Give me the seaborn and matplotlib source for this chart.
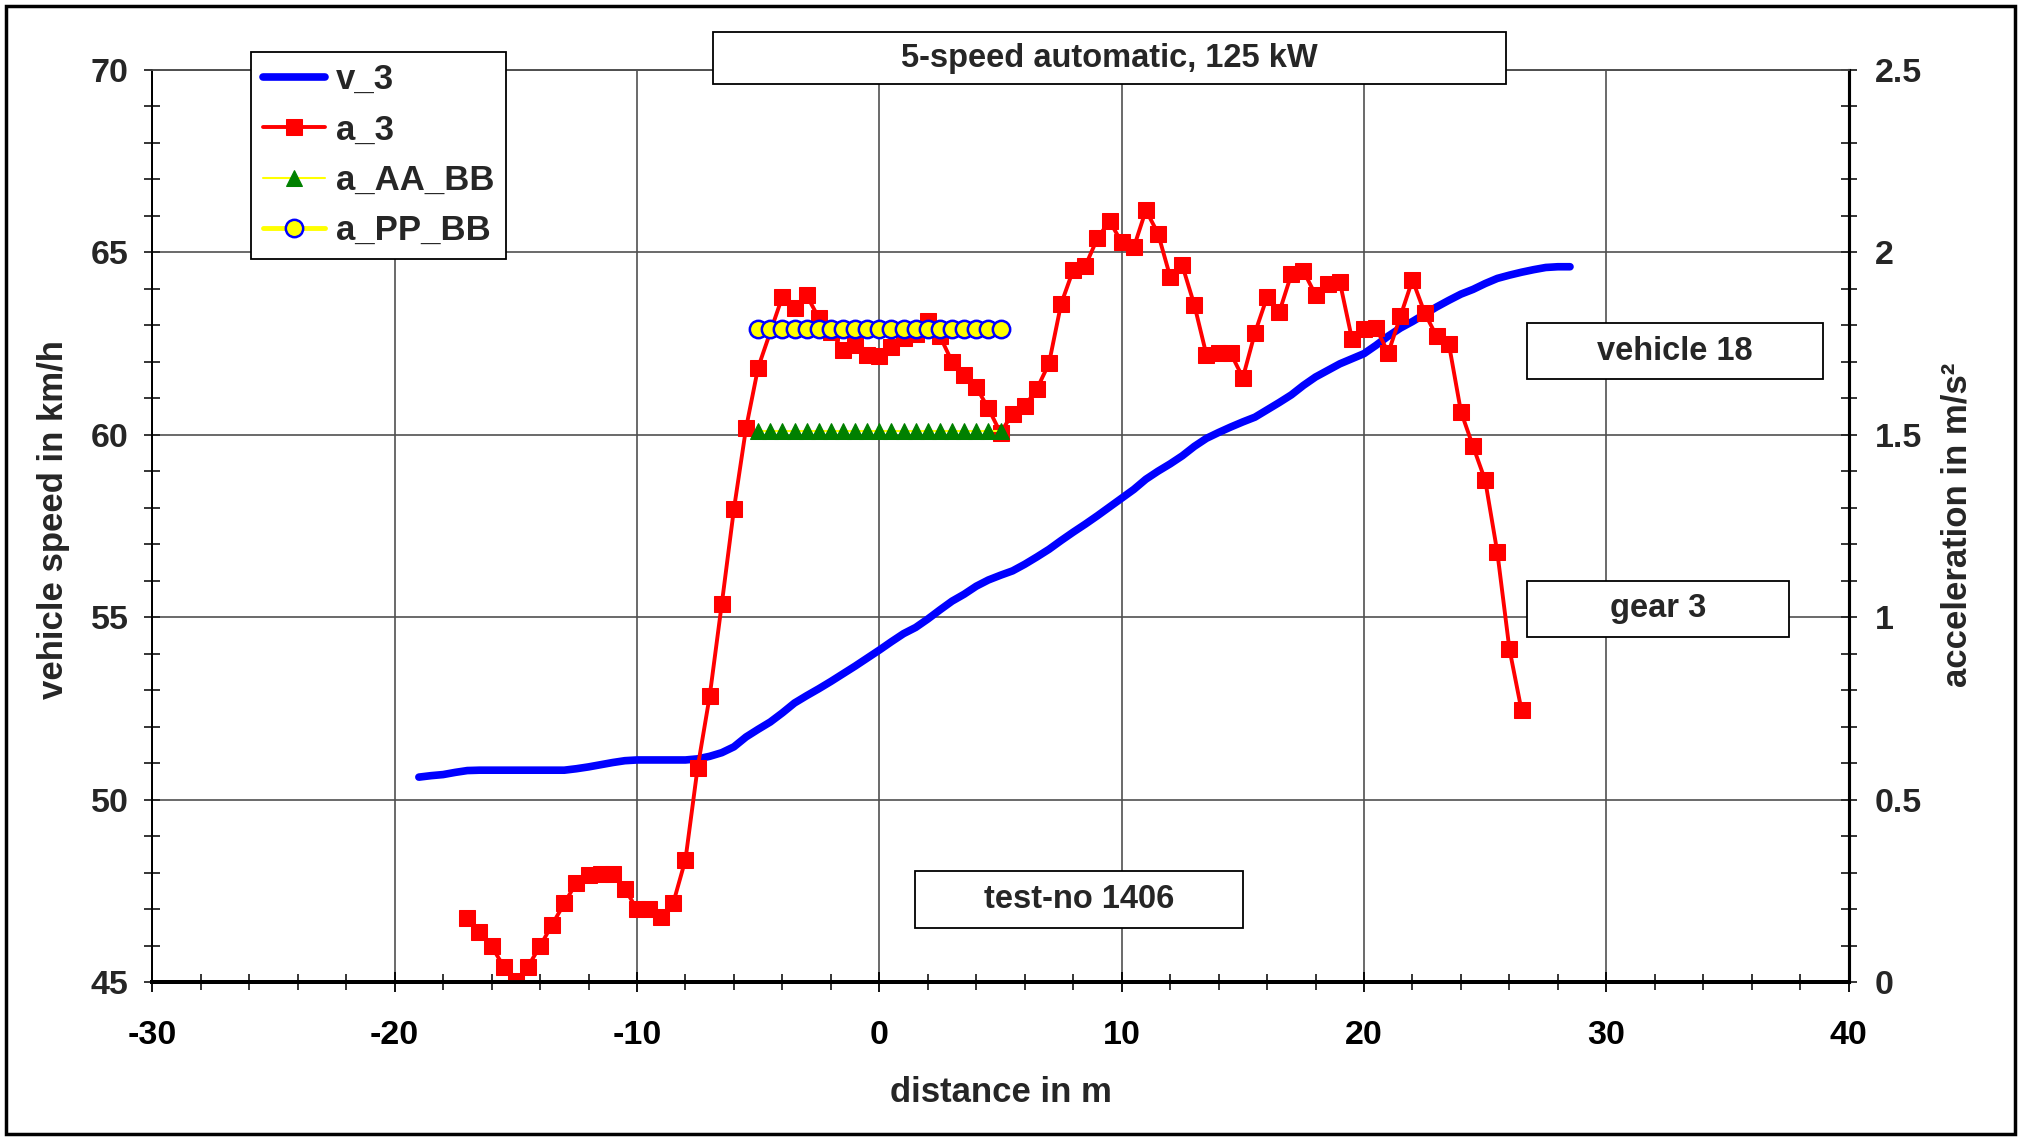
import matplotlib
matplotlib.use('Agg')
import matplotlib.pyplot as plt
import matplotlib.patches as patches
from matplotlib.ticker import MultipleLocator, FuncFormatter
import seaborn as sns

# vehicle speed v_3 in km/h over distance in m
v3_x = [-19, -18.5, -18, -17.5, -17, -16.5, -16, -15.5, -15, -14.5, -14, -13.5, -13, -12.5, -12, -11.5,
        -11, -10.5, -10, -9.5, -9, -8.5, -8, -7.5, -7, -6.5, -6, -5.5, -5, -4.5, -4, -3.5, -3, -2.5,
        -2, -1.5, -1, -0.5, 0, 0.5, 1, 1.5, 2, 2.5, 3, 3.5, 4, 4.5, 5, 5.5, 6, 6.5, 7, 7.5, 8, 8.5,
        9, 9.5, 10, 10.5, 11, 11.5, 12, 12.5, 13, 13.5, 14, 14.5, 15, 15.5, 16, 16.5, 17, 17.5, 18,
        18.5, 19, 19.5, 20, 20.5, 21, 21.5, 22, 22.5, 23, 23.5, 24, 24.5, 25, 25.5, 26, 26.5, 27,
        27.5, 28, 28.5]
v3 = [50.62, 50.66, 50.69, 50.75, 50.80, 50.81, 50.81, 50.81, 50.81, 50.81, 50.81, 50.81, 50.81, 50.85,
      50.90, 50.96, 51.02, 51.07, 51.09, 51.09, 51.09, 51.09, 51.09, 51.12, 51.19, 51.29, 51.45, 51.72,
      51.93, 52.13, 52.38, 52.65, 52.85, 53.04, 53.24, 53.45, 53.66, 53.88, 54.10, 54.33, 54.55, 54.72,
      54.95, 55.20, 55.44, 55.63, 55.85, 56.02, 56.15, 56.27, 56.45, 56.65, 56.86, 57.10, 57.33, 57.55,
      57.78, 58.02, 58.26, 58.50, 58.78, 59.00, 59.20, 59.42, 59.68, 59.90, 60.06, 60.21, 60.35, 60.48,
      60.68, 60.88, 61.09, 61.35, 61.58, 61.76, 61.94, 62.08, 62.22, 62.45, 62.70, 62.92, 63.10, 63.30,
      63.50, 63.68, 63.85, 63.98, 64.14, 64.28, 64.37, 64.45, 64.52, 64.58, 64.60, 64.60]

# acceleration a_3 in m/s^2 (no sample at -4.5 m)
a3_x = [-17, -16.5, -16, -15.5, -15, -14.5, -14, -13.5, -13, -12.5, -12, -11.5, -11, -10.5, -10, -9.5,
        -9, -8.5, -8, -7.5, -7, -6.5, -6, -5.5, -5, -4, -3.5, -3, -2.5, -2, -1.5, -1, -0.5, 0, 0.5, 1,
        1.5, 2, 2.5, 3, 3.5, 4, 4.5, 5, 5.5, 6, 6.5, 7, 7.5, 8, 8.5, 9, 9.5, 10, 10.5, 11, 11.5, 12,
        12.5, 13, 13.5, 14, 14.5, 15, 15.5, 16, 16.5, 17, 17.5, 18, 18.5, 19, 19.5, 20, 20.5, 21, 21.5,
        22, 22.5, 23, 23.5, 24, 24.5, 25, 25.5, 26, 26.5]
a3 = [0.177, 0.138, 0.099, 0.043, 0.003, 0.043, 0.099, 0.158, 0.216, 0.273, 0.294, 0.297, 0.297, 0.256,
      0.200, 0.200, 0.178, 0.218, 0.336, 0.587, 0.784, 1.037, 1.296, 1.518, 1.684, 1.878, 1.846, 1.882,
      1.820, 1.782, 1.733, 1.745, 1.717, 1.716, 1.741, 1.764, 1.776, 1.812, 1.770, 1.700, 1.664, 1.630,
      1.572, 1.505, 1.558, 1.578, 1.625, 1.695, 1.858, 1.951, 1.962, 2.038, 2.085, 2.027, 2.013, 2.115,
      2.051, 1.933, 1.964, 1.855, 1.718, 1.724, 1.723, 1.656, 1.779, 1.877, 1.835, 1.939, 1.948, 1.883,
      1.914, 1.919, 1.763, 1.790, 1.792, 1.724, 1.824, 1.924, 1.834, 1.769, 1.749, 1.563, 1.468, 1.375,
      1.178, 0.913, 0.745]

# reference levels a_AA_BB and a_PP_BB
bb_x = [-5, -4.5, -4, -3.5, -3, -2.5, -2, -1.5, -1, -0.5, 0, 0.5, 1, 1.5, 2, 2.5, 3, 3.5, 4, 4.5, 5]
a_aa_bb = [1.51, 1.51, 1.51, 1.51, 1.51, 1.51, 1.51, 1.51, 1.51, 1.51, 1.51,
           1.51, 1.51, 1.51, 1.51, 1.51, 1.51, 1.51, 1.51, 1.51, 1.51]
a_pp_bb = [1.79, 1.79, 1.79, 1.79, 1.79, 1.79, 1.79, 1.79, 1.79, 1.79, 1.79,
           1.79, 1.79, 1.79, 1.79, 1.79, 1.79, 1.79, 1.79, 1.79, 1.79]

W, H = 2021, 1138


def fx(x):
    return x / W


def fy(y):
    return 1 - y / H


sns.set_style('white')
plt.rcParams['font.family'] = ['Liberation Sans', 'DejaVu Sans']
plt.rcParams['font.weight'] = 'bold'
plt.rcParams['axes.unicode_minus'] = False

fig = plt.figure(figsize=(W / 100, H / 100), dpi=100)
ax = fig.add_axes([fx(152.3), fy(982.3), fx(1848.7) - fx(152.3), fy(69.6) - fy(982.3)])
ax2 = ax.twinx()

sns.lineplot(x=v3_x, y=v3, ax=ax, color='#0000ff', lw=5.5, label='v_3', legend=False, zorder=3)
sns.lineplot(x=a3_x, y=a3, ax=ax2, color='#ff0000', lw=2.8, marker='s', markersize=12,
             markeredgecolor='#ff0000', label='a_3', legend=False, sort=False)
sns.lineplot(x=bb_x, y=a_aa_bb, ax=ax2, color='#ffff00', lw=1.5, marker='^', markersize=11,
             markerfacecolor='#008000', markeredgecolor='#008000', label='a_AA_BB', legend=False)
sns.lineplot(x=bb_x, y=a_pp_bb, ax=ax2, color='#ffff00', lw=3.5, marker='o', markersize=12.5,
             markerfacecolor='#ffff00', markeredgecolor='#0000ff', markeredgewidth=1.8,
             label='a_PP_BB', legend=False)

ax.set_xlim(-30, 40)
ax.set_ylim(45, 70)
ax2.set_ylim(0, 2.5)
ax.set_xlabel('')
ax.set_ylabel('')
ax2.set_ylabel('')

ax.xaxis.set_major_locator(MultipleLocator(10))
ax.xaxis.set_minor_locator(MultipleLocator(2))
ax.yaxis.set_major_locator(MultipleLocator(5))
ax.yaxis.set_minor_locator(MultipleLocator(1))
ax2.yaxis.set_major_locator(MultipleLocator(0.5))
ax2.yaxis.set_minor_locator(MultipleLocator(0.1))
ax2.yaxis.set_major_formatter(FuncFormatter(lambda v, p: f'{v:g}'))

ax.grid(True, which='major', color='#505050', lw=1.2)
ax.set_axisbelow(True)

tick_fs = 24.5
ax.tick_params(axis='x', which='major', direction='inout', length=14, width=1.3, pad=20,
               labelsize=tick_fs, bottom=True, colors='black')
ax.tick_params(axis='x', which='minor', direction='inout', length=12, width=1.3, bottom=True)
ax.tick_params(axis='y', which='major', direction='inout', length=12, width=1.3, pad=11,
               labelsize=tick_fs, left=True)
ax.tick_params(axis='y', which='minor', direction='inout', length=12, width=1.3, left=True)
ax2.tick_params(axis='y', which='major', direction='inout', length=12, width=1.3, pad=13,
                labelsize=tick_fs, right=True)
ax2.tick_params(axis='y', which='minor', direction='inout', length=12, width=1.3, right=True)

for a in (ax, ax2):
    a.spines['bottom'].set_linewidth(2.8)
    a.spines['bottom'].set_color('black')
    a.spines['left'].set_linewidth(1.3)
    a.spines['left'].set_color('black')
    a.spines['right'].set_linewidth(2.2)
    a.spines['right'].set_color('black')
    a.spines['top'].set_linewidth(1.2)
    a.spines['top'].set_color('#505050')

# axis titles
fig.text(fx(1000.5), fy(1093), 'distance in m', ha='center', va='center', fontsize=25)
fig.text(fx(54), fy(520), 'vehicle speed in km/h', ha='center', va='center', rotation=90, fontsize=25)
fig.text(fx(1957), fy(525), 'acceleration in m/s²', ha='center', va='center', rotation=90, fontsize=25)

# legend combining both axes
h1, l1 = ax.get_legend_handles_labels()
h2, l2 = ax2.get_legend_handles_labels()
leg = ax2.legend(h1 + h2, l1 + l2, loc='upper left', bbox_to_anchor=(fx(251.3), fy(51.6)),
                 bbox_transform=fig.transFigure, frameon=True, fancybox=False, framealpha=1,
                 edgecolor='black', fontsize=25, borderpad=0.33, handlelength=1.8,
                 handletextpad=0.3, labelspacing=0.5, borderaxespad=0)
leg.get_frame().set_linewidth(1.3)


def add_box(x0, y0, x1, y1, text, size=23.5):
    rect = patches.Rectangle((fx(x0), fy(y1)), fx(x1) - fx(x0), fy(y0) - fy(y1),
                             transform=fig.transFigure, facecolor='white', edgecolor='black',
                             lw=1.3, zorder=5)
    fig.add_artist(rect)
    return fig.text(fx((x0 + x1) / 2), fy((y0 + y1) / 2), text, ha='center', va='center',
                    fontsize=size, zorder=6)


add_box(712.8, 32.2, 1505.5, 83.8, '5-speed automatic, 125 kW')
add_box(1527.3, 323.5, 1822.5, 378.9, 'vehicle 18')
add_box(1527.3, 581.3, 1789.0, 636.7, 'gear 3')
add_box(915.1, 871.3, 1242.5, 928.0, 'test-no 1406')

# outer frame of the chart
frame = patches.Rectangle((fx(6), fy(1134)), fx(2015) - fx(6), fy(6) - fy(1134),
                          transform=fig.transFigure, fill=False, edgecolor='black', lw=2.5, zorder=10)
fig.add_artist(frame)

fig.savefig('out.png', dpi=100)
